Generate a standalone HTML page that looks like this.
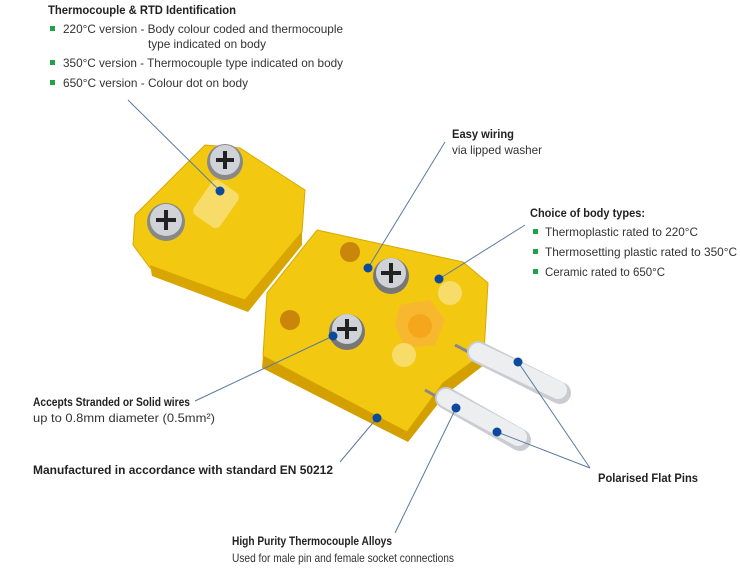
<!DOCTYPE html>
<html><head><meta charset="utf-8"><style>
html,body{margin:0;padding:0;background:#fff;}
svg{display:block;}
text{font-family:"Liberation Sans",sans-serif;font-size:12px;fill:#333;}
.b{font-weight:bold;fill:#222;}
</style></head><body>
<svg width="740" height="571" viewBox="0 0 740 571" xmlns="http://www.w3.org/2000/svg">
<!-- cap piece -->
<polygon points="135,215 205,145 240,148 305,190 302,232 245,300 150,268 133,245" fill="#f2c811" stroke="#d9a800" stroke-width="1"/>
<polygon points="150,265 245,300 302,232 302,245 248,312 152,276" fill="#d9a500"/>
<rect x="200" y="183" width="32" height="42" rx="6" fill="#f7dc6a" transform="rotate(35 216 204)"/>
<circle cx="225" cy="162" r="18" fill="#888"/><circle cx="225" cy="160" r="15" fill="#cfd2d6"/>
<path d="M216 160h18M225 151v18" stroke="#222" stroke-width="4"/>
<circle cx="166" cy="222" r="19" fill="#888"/><circle cx="166" cy="220" r="16" fill="#cfd2d6"/>
<path d="M156 220h20M166 210v20" stroke="#222" stroke-width="4"/>
<!-- main body -->
<polygon points="317,230 463,262 488,283 484,353 443,383 407,432 263,356 267,293" fill="#f2c811" stroke="#d9a800"/>
<polygon points="263,356 407,432 443,383 484,353 484,365 445,395 408,442 262,368" fill="#d4a000"/>
<circle cx="350" cy="252" r="10" fill="#c9860a"/><circle cx="290" cy="320" r="10" fill="#c9860a"/>
<polygon points="400,305 430,300 445,320 435,345 405,348 395,325" fill="#f7b830"/>
<circle cx="420" cy="326" r="12" fill="#f4a61c"/>
<circle cx="450" cy="293" r="12" fill="#f7dc6a"/><circle cx="404" cy="355" r="12" fill="#f7dc6a"/>
<circle cx="391" cy="276" r="18" fill="#777"/><circle cx="391" cy="273" r="15" fill="#cfd2d6"/>
<path d="M381 273h20M391 263v20" stroke="#222" stroke-width="4"/>
<circle cx="347" cy="332" r="18" fill="#777"/><circle cx="347" cy="329" r="15" fill="#cfd2d6"/>
<path d="M337 329h20M347 319v20" stroke="#222" stroke-width="4"/>
<!-- pins -->
<line x1="455" y1="345" x2="480" y2="358" stroke="#888" stroke-width="3"/>
<line x1="478" y1="352" x2="560" y2="393" stroke="#c9ccd0" stroke-width="22" stroke-linecap="round"/>
<line x1="478" y1="352" x2="558" y2="390" stroke="#eceeef" stroke-width="18" stroke-linecap="round"/>
<line x1="425" y1="390" x2="448" y2="403" stroke="#888" stroke-width="3"/>
<line x1="446" y1="398" x2="520" y2="440" stroke="#c9ccd0" stroke-width="22" stroke-linecap="round"/>
<line x1="446" y1="398" x2="518" y2="437" stroke="#eceeef" stroke-width="18" stroke-linecap="round"/>
<!-- leader lines -->
<g stroke="#5a7aa0" stroke-width="1" fill="none">
<line x1="128" y1="100" x2="220" y2="191"/>
<line x1="445" y1="142" x2="368" y2="268"/>
<line x1="525" y1="225" x2="439" y2="279"/>
<line x1="195" y1="401" x2="333" y2="336"/>
<line x1="340" y1="462" x2="377" y2="418"/>
<line x1="395" y1="533" x2="456" y2="408"/>
<line x1="518" y1="362" x2="590" y2="468"/>
<line x1="497" y1="432" x2="590" y2="468"/>
</g>
<g fill="#0b4a9c">
<circle cx="220" cy="191" r="4.5"/><circle cx="368" cy="268" r="4.5"/><circle cx="439" cy="279" r="4.5"/>
<circle cx="333" cy="336" r="4.5"/><circle cx="518" cy="362" r="4.5"/><circle cx="456" cy="408" r="4.5"/>
<circle cx="497" cy="432" r="4.5"/><circle cx="377" cy="418" r="4.5"/>
</g>
<!-- texts -->
<text class="b" x="48" y="14" textLength="188" lengthAdjust="spacingAndGlyphs">Thermocouple &amp; RTD Identification</text>
<g fill="#1fa24a"><rect x="50" y="26" width="5" height="5"/><rect x="50" y="60" width="5" height="5"/><rect x="50" y="80" width="5" height="5"/>
<rect x="533" y="229" width="5" height="5"/><rect x="533" y="249" width="5" height="5"/><rect x="533" y="269" width="5" height="5"/></g>
<text x="63" y="33" textLength="280" lengthAdjust="spacingAndGlyphs">220°C version - Body colour coded and thermocouple</text>
<text x="148" y="48" textLength="118" lengthAdjust="spacingAndGlyphs">type indicated on body</text>
<text x="63" y="67" textLength="280" lengthAdjust="spacingAndGlyphs">350°C version - Thermocouple type indicated on body</text>
<text x="63" y="87" textLength="185" lengthAdjust="spacingAndGlyphs">650°C version - Colour dot on body</text>
<text class="b" x="452" y="138" textLength="62" lengthAdjust="spacingAndGlyphs">Easy wiring</text>
<text x="452" y="154" textLength="90" lengthAdjust="spacingAndGlyphs">via lipped washer</text>
<text class="b" x="530" y="217" textLength="115" lengthAdjust="spacingAndGlyphs">Choice of body types:</text>
<text x="545" y="236" textLength="153" lengthAdjust="spacingAndGlyphs">Thermoplastic rated to 220°C</text>
<text x="545" y="256" textLength="192" lengthAdjust="spacingAndGlyphs">Thermosetting plastic rated to 350°C</text>
<text x="545" y="276" textLength="120" lengthAdjust="spacingAndGlyphs">Ceramic rated to 650°C</text>
<text class="b" x="33" y="406" textLength="157" lengthAdjust="spacingAndGlyphs">Accepts Stranded or Solid wires</text>
<text x="33" y="422" textLength="182" lengthAdjust="spacingAndGlyphs">up to 0.8mm diameter (0.5mm²)</text>
<text class="b" x="33" y="474" textLength="300" lengthAdjust="spacingAndGlyphs">Manufactured in accordance with standard EN 50212</text>
<text class="b" x="598" y="482" textLength="100" lengthAdjust="spacingAndGlyphs">Polarised Flat Pins</text>
<text class="b" x="232" y="545" textLength="160" lengthAdjust="spacingAndGlyphs">High Purity Thermocouple Alloys</text>
<text x="232" y="562" textLength="222" lengthAdjust="spacingAndGlyphs">Used for male pin and female socket connections</text>
</svg>
</body></html>
